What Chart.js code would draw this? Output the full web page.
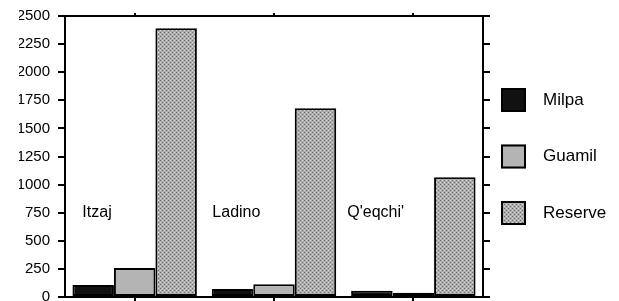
<!DOCTYPE html>
<html>
<head>
<meta charset="utf-8">
<script src="https://cdn.jsdelivr.net/npm/chart.js@4"></script>
<style>
  html, body { margin: 0; padding: 0; background: #fff; }
  #wrap { width: 619px; height: 301px; }
</style>
</head>
<body>
<div id="wrap"><canvas id="graph" width="619" height="301"></canvas></div>
<script>
// data
const groups = ["Itzaj", "Ladino", "Q'eqchi'"];
const seriesNames = ["Milpa", "Guamil", "Reserve"];
const milpa = [107, 71, 56];
const guamil = [258, 113, 38];
const reserve = [2390, 1680, 1065];
const yTicks = [0, 250, 500, 750, 1000, 1250, 1500, 1750, 2000, 2250, 2500];

Chart.defaults.font.family = "'Liberation Sans', Arial, sans-serif";
Chart.defaults.color = "#000";

// stippled grey for the reserve bars
function stipple() {
  const c = document.createElement("canvas");
  c.width = 4;
  c.height = 4;
  const g = c.getContext("2d");
  g.fillStyle = "#adadad";
  g.fillRect(0, 0, 4, 4);
  g.fillStyle = "#6e6e6e";
  g.fillRect(0, 0, 1, 1);
  g.fillRect(2, 2, 1, 1);
  g.fillStyle = "#d6d6d6";
  g.fillRect(2, 0, 1, 1);
  g.fillRect(0, 2, 1, 1);
  return document.getElementById("graph").getContext("2d").createPattern(c, "repeat");
}

// group names written inside the plot
const groupLabels = {
  id: "groupLabels",
  afterDatasetsDraw(chart) {
    const ctx = chart.ctx;
    const x = chart.scales.x;
    const y = chart.scales.y;
    const w = (x.right - x.left) / groups.length;
    ctx.save();
    ctx.font = "16px 'Liberation Sans', Arial, sans-serif";
    ctx.fillStyle = "#000";
    ctx.textAlign = "center";
    ctx.textBaseline = "alphabetic";
    groups.forEach((name, i) => {
      ctx.fillText(name, x.getPixelForValue(i) - 0.27 * w, y.getPixelForValue(710));
    });
    ctx.restore();
  },
};

// legend column to the right of the frame
const sideLegend = {
  id: "sideLegend",
  afterDraw(chart) {
    const ctx = chart.ctx;
    const area = chart.chartArea;
    const mid = (area.top + area.bottom) / 2;
    const sets = chart.data.datasets;
    ctx.save();
    ctx.font = "17px 'Liberation Sans', Arial, sans-serif";
    ctx.textBaseline = "middle";
    sets.forEach((ds, i) => {
      const cy = mid + (i - (sets.length - 1) / 2) * 56.5;
      const bx = area.right + 18;
      ctx.fillStyle = ds.backgroundColor;
      ctx.fillRect(bx, cy - 12, 25, 24);
      ctx.strokeStyle = "#000";
      ctx.lineWidth = 2;
      ctx.strokeRect(bx + 1, cy - 11, 23, 22);
      ctx.fillStyle = "#000";
      ctx.fillText(ds.label, bx + 42, cy);
    });
    ctx.restore();
  },
};

const frameGrid = (len) => ({
  display: true,
  drawOnChartArea: false,
  drawTicks: true,
  tickLength: len,
  color: "#000",
  lineWidth: 2,
  offset: false,
});
const frameBorder = { display: true, color: "#000", width: 2 };
// no extra room for half labels at the ends
const noPad = (s) => {
  s.paddingTop = 0;
  s.paddingBottom = 0;
  s.paddingLeft = 0;
  s.paddingRight = 0;
};

const ctx = document.getElementById("graph").getContext("2d");
new Chart(ctx, {
  type: "bar",
  data: {
    labels: groups,
    datasets: [
      { label: seriesNames[0], data: milpa, backgroundColor: "#111" },
      { label: seriesNames[1], data: guamil, backgroundColor: "#b4b4b4" },
      { label: seriesNames[2], data: reserve, backgroundColor: stipple() },
    ].map((d) => ({
      ...d,
      borderColor: "#000",
      borderWidth: 2,
      borderSkipped: false,
      categoryPercentage: 0.893,
      barPercentage: 1,
    })),
  },
  options: {
    responsive: false,
    animation: false,
    events: [],
    layout: { padding: { left: 19, right: 129, top: 13, bottom: 0 } },
    plugins: {
      legend: { display: false },
      tooltip: { enabled: false },
    },
    scales: {
      x: {
        type: "category",
        offset: true,
        grid: frameGrid(4),
        border: frameBorder,
        ticks: { display: false },
        afterFit: noPad,
      },
      x2: {
        type: "category",
        position: "top",
        labels: groups,
        offset: true,
        grid: frameGrid(3),
        border: frameBorder,
        ticks: { display: false },
        afterFit: noPad,
      },
      y: {
        min: 0,
        max: 2500,
        afterBuildTicks: (s) => { s.ticks = yTicks.map((v) => ({ value: v })); },
        grid: frameGrid(7),
        border: frameBorder,
        ticks: { font: { size: 15 }, padding: 8, callback: (v) => String(v) },
        afterFit: (s) => { noPad(s); s.width = 46; },
      },
      y2: {
        position: "right",
        min: 0,
        max: 2500,
        afterBuildTicks: (s) => { s.ticks = yTicks.map((v) => ({ value: v })); },
        grid: frameGrid(7),
        border: frameBorder,
        ticks: { display: false },
        afterFit: noPad,
      },
    },
  },
  plugins: [groupLabels, sideLegend],
});
</script>
</body>
</html>
